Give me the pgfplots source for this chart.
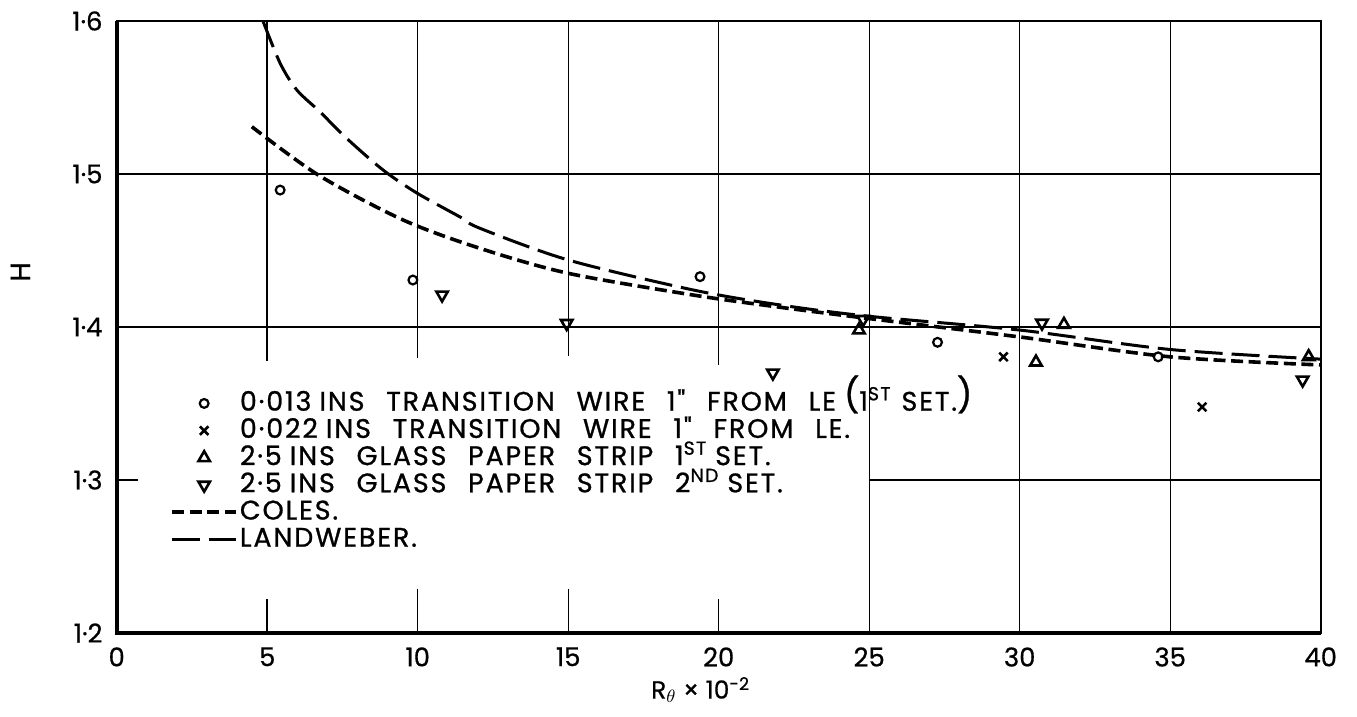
\documentclass[border=0pt]{standalone}
\usepackage{fontspec}
\setmainfont{Poppins}[FakeBold=0.6]
\newfontfamily\lab{Poppins}[LetterSpace=7,WordSpace=2.4,FakeBold=0.9]
\usepackage{pgfplots}
\pgfplotsset{compat=1.18}
\tikzset{gl/.style={black, line width=0.7bp}}
\newcommand{\bigp}[1]{\raisebox{1.8bp}{\fontsize{17}{17}\selectfont #1}}
\begin{document}
\begin{tikzpicture}
\begin{axis}[
  scale only axis, width=602bp, height=306bp,
  xmin=0, xmax=40, ymin=1.2, ymax=1.6,
  clip=false,
  axis line style={line width=1bp},
  xtick={0,5,10,15,20,25,30,35,40},
  ytick={1.2,1.3,1.4,1.5,1.6},
  yticklabels={1·2,1·3,1·4,1·5,1·6},
  xticklabels={0,5,10,15,20,25,30,35,40},
  major tick length=0pt,
  tick label style={font=\fontsize{13}{14}\selectfont},
  xticklabel style={inner sep=0pt, yshift=-7bp},
  yticklabel style={inner sep=0pt, xshift=-6.9bp},
  xlabel={R\textsubscript{$\theta$} × 10\textsuperscript{-2}},
  xlabel style={at={(axis description cs:0.485,0)}, anchor=center, yshift=-28.5bp, font=\fontsize{12.5}{14}\selectfont},
  ylabel={H},
  ylabel style={at={(axis description cs:-0.08,0.59)}, anchor=center, font=\fontsize{14}{15}\selectfont},
  legend style={at={(axis cs:1.77,1.359)}, anchor=north west, draw=none, fill=none,
    inner sep=0pt, font=\lab\fontsize{13.5}{14}\selectfont, row sep=0.3bp,
    nodes={inner sep=1bp, text height=9.3bp, text depth=2bp},
    cells={anchor=west}},
  legend cell align=left,
  legend image code/.code={\draw[mark repeat=2,mark phase=2,#1] plot coordinates {(0bp,0bp) (16bp,0bp) (32bp,0bp)};},
]
% grid lines
\draw[gl] (axis cs:5,1.6) -- (axis cs:5,1.378);
\draw[gl] (axis cs:5,1.222) -- (axis cs:5,1.2);
\draw[gl] (axis cs:10,1.6) -- (axis cs:10,1.380);
\draw[gl] (axis cs:10,1.229) -- (axis cs:10,1.2);
\draw[gl] (axis cs:15,1.6) -- (axis cs:15,1.381);
\draw[gl] (axis cs:15,1.229) -- (axis cs:15,1.2);
\draw[gl] (axis cs:20,1.6) -- (axis cs:20,1.375);
\draw[gl] (axis cs:20,1.222) -- (axis cs:20,1.2);
\draw[gl] (axis cs:25,1.6) -- (axis cs:25,1.2);
\draw[gl] (axis cs:30,1.6) -- (axis cs:30,1.2);
\draw[gl] (axis cs:35,1.6) -- (axis cs:35,1.2);
\draw[gl] (axis cs:0,1.5) -- (axis cs:40,1.5);
\draw[gl] (axis cs:0,1.4) -- (axis cs:40,1.4);
\draw[gl] (axis cs:0,1.3) -- (axis cs:0.7,1.3);
\draw[gl] (axis cs:25,1.3) -- (axis cs:40,1.3);
% heavy left and bottom frame
\draw[line width=2bp] (rel axis cs:0,1) -- (rel axis cs:0,0) -- (rel axis cs:1,0);

\addplot[only marks, mark=o, mark size=2.2bp, mark options={line width=1.1bp}] coordinates {
 (5.43,1.4895) (9.84,1.4307) (19.38,1.4329) (27.27,1.3900) (34.6,1.3805)};
\addlegendentry{0·013\hspace{4bp}INS TRANSITION WIRE 1" FROM LE\hspace{4bp}\bigp{(}1\textsuperscript{ST}\hspace{5bp}SET.\bigp{)}}
\addplot[only marks, mark=x, mark size=3bp, mark options={line width=1.3bp}] coordinates {
 (29.46,1.3805) (36.06,1.3477)};
\addlegendentry{0·022\hspace{4bp}INS TRANSITION WIRE 1" FROM LE.}
\addplot[only marks, mark=triangle, mark size=3.3bp, mark options={line width=1.3bp}] coordinates {
 (24.66,1.398) (30.54,1.377) (31.47,1.4016) (39.6,1.3805)};
\addlegendentry{2·5\hspace{4bp}INS GLASS PAPER STRIP 1\textsuperscript{ST}\hspace{4bp}SET.}
\addplot[only marks, mark=triangle, mark size=3.3bp, mark options={line width=1.3bp, rotate=180}] coordinates {
 (10.81,1.421) (14.95,1.4024) (21.8,1.370) (24.8,1.405) (30.74,1.4026) (39.4,1.3654)};
\addlegendentry{2·5\hspace{4bp}INS GLASS PAPER STRIP 2\textsuperscript{ND}\hspace{4bp}SET.}
\addplot[smooth, line width=1.8bp, dash pattern=on 6bp off 2.8bp] coordinates {
 (4.49,1.5309) (6.7,1.4993) (9.51,1.470) (12.07,1.4514) (15,1.4351) (19.15,1.4209)
 (22,1.413) (25,1.4055) (30,1.3935) (35,1.3805) (40,1.3752)};
\addlegendentry{COLES.}
\addplot[smooth, line width=1.5bp, dash pattern=on 14bp off 4.5bp] coordinates {
 (4.86,1.6) (5.43,1.5724) (5.98,1.555) (6.75,1.5407) (7.64,1.5233) (8.85,1.5026)
 (9.97,1.4876) (11.4,1.472) (12.07,1.4645) (15,1.4438) (19.15,1.4242) (22.04,1.4144)
 (25,1.407) (30,1.398) (35,1.3853) (40,1.379)};
\addlegendentry{LANDWEBER.}
\end{axis}
\pgfresetboundingbox
\path[use as bounding box] (-58.35bp,-42bp) rectangle (620.15bp,316.5bp);
\end{tikzpicture}
\end{document}
